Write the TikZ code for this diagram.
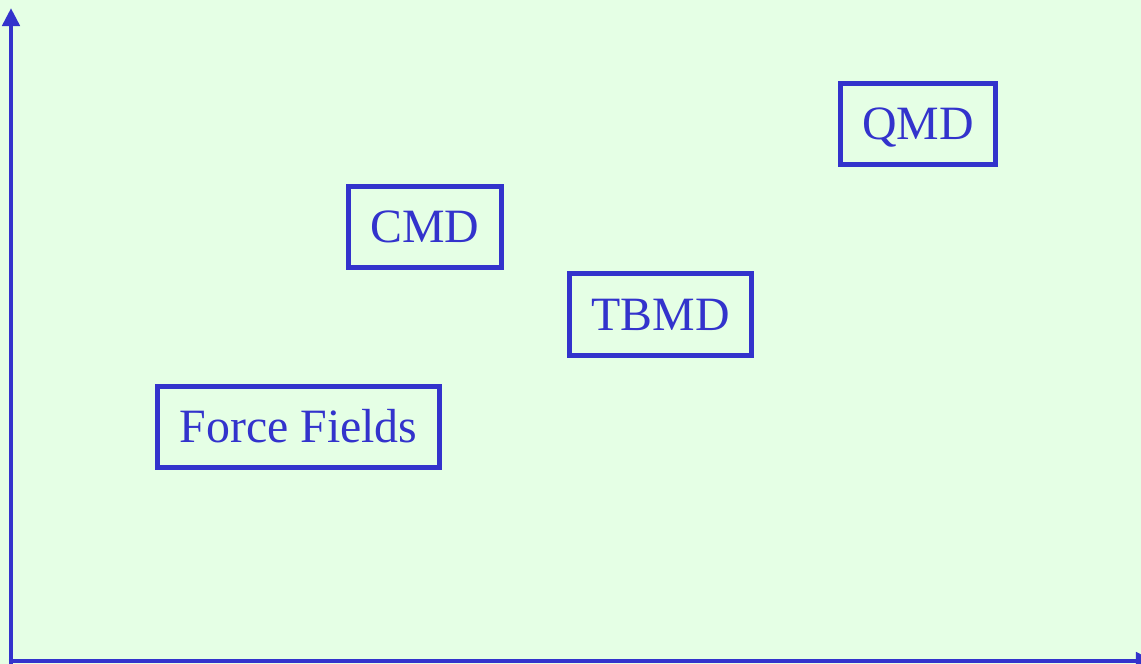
\documentclass[tikz,border=0pt]{standalone}
\usepackage{fontspec}
\setmainfont{Liberation Serif}
\usetikzlibrary{arrows.meta}
\definecolor{axisblue}{RGB}{51,51,204}
\definecolor{paper}{RGB}{229,255,229}
\tikzset{%
  >={Triangle[length=0.18cm,width=0.17cm]}, % arrow tips of the axes
  axis/.style={draw=axisblue,line width=0.045cm},%
  method/.style={draw=axisblue,line width=0.05cm,text=axisblue,
  inner xsep=0.22cm,inner ysep=0pt,minimum height=0.81cm,
  text height=0.31cm,text depth=0cm,
  font=\fontsize{13.6}{16}\selectfont}%
}
\begin{document}
\begin{tikzpicture}[x=0.01cm,y=-0.01cm] % one unit = one pixel

    \def\W{1141} % picture width
    \def\H{664} % picture height

    \fill[paper] (0,0) rectangle (\W,\H);
    \useasboundingbox (0,0) rectangle (\W,\H);
    \clip (0,0) rectangle (\W,\H);

    \coordinate (O) at (11,661);
    \coordinate (Ytop) at (11,8);
    \coordinate (Xend) at (1154,661);

    \draw[axis,->] (11,\H) -- (Ytop); % vertical axis
    \draw[axis,->] (9,661) -- (Xend); % horizontal axis

    \node[method] (FF) at (298.5,427) {Force Fields};
    \node[method] (CMD) at (425,227) {CMD};
    \node[method] (TBMD) at (660.5,314.5) {TBMD};
    \node[method] (QMD) at (918,124) {QMD};

\end{tikzpicture}
\end{document}
